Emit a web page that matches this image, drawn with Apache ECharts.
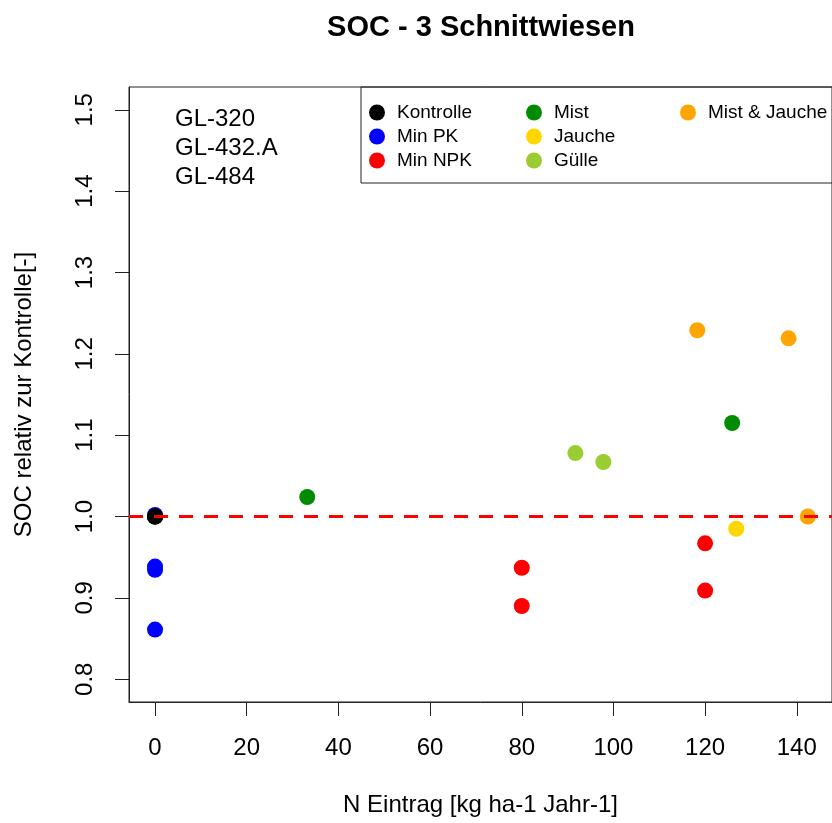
<!DOCTYPE html>
<html>
<head>
<meta charset="utf-8">
<script src="https://cdn.jsdelivr.net/npm/echarts@6/dist/echarts.min.js"></script>
<style>
  html, body { margin: 0; padding: 0; background: #fff; }
  #chart1 { width: 832px; height: 823px; }
</style>
</head>
<body>
<div id="chart1"></div>
<script>
// Werte
const xTicks = [0, 20, 40, 60, 80, 100, 120, 140];
const yTicks = [0.8, 0.9, 1.0, 1.1, 1.2, 1.3, 1.4, 1.5];
const sites = ['GL-320', 'GL-432.A', 'GL-484'];

const kontrolleX = [0, 0, 0];
const kontrolleY = [1.0, 1.0, 1.0];
const minPkX = [0, 0, 0, 0];
const minPkY = [1.002, 0.9385, 0.9345, 0.861];
const minNpkX = [80, 80, 120, 120];
const minNpkY = [0.937, 0.890, 0.967, 0.909];
const mistX = [33.2, 125.9];
const mistY = [1.024, 1.115];
const jaucheX = [126.8];
const jaucheY = [0.985];
const guelleX = [91.7, 97.8];
const guelleY = [1.078, 1.067];
const mistJaucheX = [118.3, 138.2, 142.4];
const mistJaucheY = [1.229, 1.219, 1.0];

const FONT = 'Liberation Sans, Arial, sans-serif';

const pts = (xs, ys) => xs.map((x, i) => [x, ys[i]]);

const serien = [
  { name: 'Kontrolle', color: '#000000', data: pts(kontrolleX, kontrolleY), z: 4 },
  { name: 'Min PK', color: '#0000FF', data: pts(minPkX, minPkY), z: 3 },
  { name: 'Min NPK', color: '#FF0000', data: pts(minNpkX, minNpkY), z: 3 },
  { name: 'Mist', color: '#008B00', data: pts(mistX, mistY), z: 3 },
  { name: 'Jauche', color: '#FFD700', data: pts(jaucheX, jaucheY), z: 3 },
  { name: 'Gülle', color: '#9ACD32', data: pts(guelleX, guelleY), z: 3 },
  { name: 'Mist & Jauche', color: '#FFA500', data: pts(mistJaucheX, mistJaucheY), z: 3 }
];

const legendCols = [
  { left: 369, names: ['Kontrolle', 'Min PK', 'Min NPK'] },
  { left: 526, names: ['Mist', 'Jauche', 'Gülle'] },
  { left: 680, names: ['Mist & Jauche'] }
];

const chart1 = echarts.init(document.getElementById('chart1'));

const option = {
  animation: false,
  backgroundColor: '#fff',
  textStyle: { fontFamily: FONT },
  title: {
    text: 'SOC - 3 Schnittwiesen',
    left: 481,
    top: 13,
    textAlign: 'center',
    padding: 0,
    textStyle: { fontFamily: FONT, fontSize: 29, fontWeight: 'bold', color: '#000' }
  },
  grid: {
    left: 129, top: 87, right: -2, bottom: 121,
    show: true, borderColor: '#222', borderWidth: 1
  },
  legend: legendCols.map(c => ({
    data: c.names,
    orient: 'vertical',
    left: c.left,
    top: 103,
    padding: 0,
    itemGap: 5,
    itemWidth: 30,
    itemHeight: 16,
    icon: 'circle',
    selectedMode: false,
    textStyle: { fontFamily: FONT, fontSize: 19, lineHeight: 19, color: '#000' }
  })),
  xAxis: {
    type: 'value',
    min: -5.68,
    max: 147.68,
    name: 'N Eintrag [kg ha-1 Jahr-1]',
    nameLocation: 'middle',
    nameGap: 91,
    nameTextStyle: { fontFamily: FONT, fontSize: 24, color: '#000' },
    axisLine: { show: true, onZero: false, lineStyle: { color: '#222', width: 1 } },
    axisTick: { show: true, length: 14, customValues: xTicks, lineStyle: { color: '#222' } },
    axisLabel: { customValues: xTicks, margin: 34, fontFamily: FONT, fontSize: 24, color: '#000' },
    splitLine: { show: false }
  },
  yAxis: {
    type: 'value',
    min: 0.772,
    max: 1.528,
    name: 'SOC relativ zur Kontrolle[-]',
    nameLocation: 'middle',
    nameGap: 93,
    nameRotate: 90,
    nameTextStyle: { fontFamily: FONT, fontSize: 24, color: '#000' },
    axisLine: { show: true, onZero: false, lineStyle: { color: '#222', width: 1 } },
    axisTick: { show: true, length: 14, customValues: yTicks, lineStyle: { color: '#222' } },
    axisLabel: {
      customValues: yTicks, rotate: 90, margin: 32,
      fontFamily: FONT, fontSize: 24, color: '#000',
      formatter: v => v.toFixed(1)
    },
    splitLine: { show: false }
  },
  graphic: [
    {
      type: 'rect',
      shape: { x: 361, y: 87, width: 480, height: 96 },
      style: { fill: 'none', stroke: '#222', lineWidth: 1 },
      z: 1
    },
    ...sites.map((s, i) => ({
      type: 'text',
      left: 175,
      top: 107 + i * 29,
      style: { text: s, fontFamily: FONT, fontSize: 24, fill: '#000' }
    }))
  ],
  series: [
    ...serien.map(s => ({
      name: s.name,
      type: 'scatter',
      data: s.data,
      symbol: 'circle',
      symbolSize: 16,
      z: s.z,
      itemStyle: { color: s.color, opacity: 1 }
    })),
    {
      name: 'ref',
      type: 'line',
      data: [],
      z: 10,
      markLine: {
        silent: true,
        symbol: 'none',
        label: { show: false },
        lineStyle: { color: '#FF0000', width: 3, type: [14, 11] },
        data: [{ yAxis: 1.0 }]
      }
    }
  ]
};

chart1.setOption(option);
</script>
</body>
</html>
